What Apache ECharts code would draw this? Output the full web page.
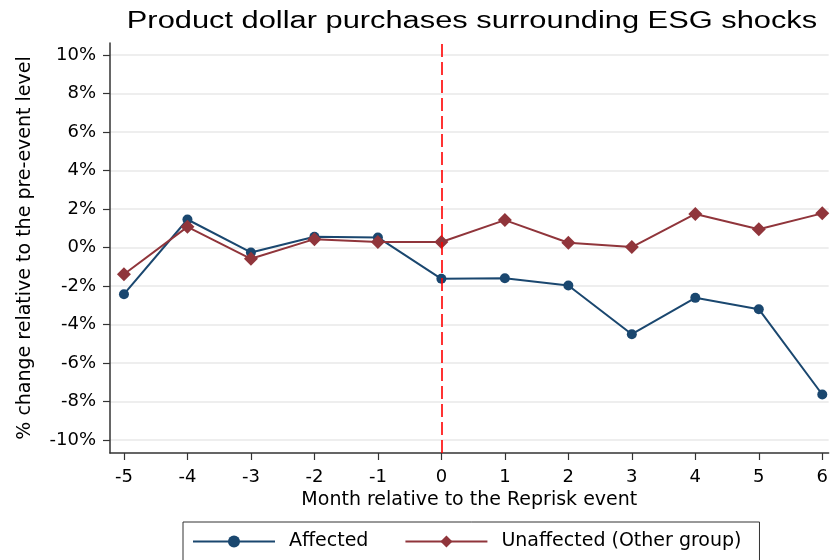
<!DOCTYPE html>
<html><head><meta charset="utf-8">
<script src="https://cdn.jsdelivr.net/npm/echarts@6/dist/echarts.min.js"></script>
<style>html,body{margin:0;padding:0;background:#fff}#c{width:831px;height:560px}</style>
</head><body><div id="c"></div>
<script>
const months = [-5,-4,-3,-2,-1,0,1,2,3,4,5,6];
const affected = [-2.43,1.45,-0.26,0.55,0.52,-1.63,-1.6,-1.98,-4.51,-2.62,-3.21,-7.64];
const unaffected = [-1.39,1.07,-0.59,0.43,0.28,0.28,1.42,0.24,0.02,1.74,0.94,1.77];
const yTicks = [-10,-8,-6,-4,-2,0,2,4,6,8,10];
const eventMonth = 0;
const titleText = 'Product dollar purchases surrounding ESG shocks';
const FONT = '"Liberation Sans", Arial, sans-serif';
const WFONT = '"DejaVu Sans", sans-serif';
const chart = echarts.init(document.getElementById('c'), null, {renderer:'canvas'});
chart.setOption({
  animation:false,
  backgroundColor:'#fff',
  graphic:[{type:'text',x:472,y:22,scaleX:1.34,scaleY:1,
    style:{text:titleText,fontFamily:FONT,fontSize:23,fill:'#000',textAlign:'center',textVerticalAlign:'middle'}}],
  grid:{left:110,right:2,top:43,bottom:107},
  legend:{data:['Affected','Unaffected (Other group)'],left:183,top:522,orient:'horizontal',
    borderColor:'#333',borderWidth:1,padding:[10,18,20,9],itemGap:36,itemWidth:82,itemHeight:15,
    textStyle:{fontFamily:WFONT,fontSize:19,color:'#000',padding:[0,0,0,9]}},
  xAxis:{type:'value',min:-5.22,max:6.1,
    name:'Month relative to the Reprisk event',nameLocation:'middle',nameGap:37,
    nameTextStyle:{fontFamily:WFONT,fontSize:19,color:'#000'},
    axisLine:{onZero:false,lineStyle:{color:'#333',width:1.5}},
    axisTick:{show:true,length:7,customValues:months,lineStyle:{color:'#333',width:1.2}},
    axisLabel:{customValues:months,fontFamily:WFONT,fontSize:18,color:'#000',margin:15},
    splitLine:{show:false}},
  yAxis:{type:'value',min:-10.68,max:10.62,
    name:'% change relative to the pre-event level',nameLocation:'middle',nameGap:75,
    nameTextStyle:{fontFamily:WFONT,fontSize:19,color:'#000'},
    axisLine:{show:true,onZero:false,lineStyle:{color:'#333',width:1.5}},
    axisTick:{show:true,length:7,customValues:yTicks,lineStyle:{color:'#333',width:1.2}},
    axisLabel:{customValues:yTicks,formatter:v=>Math.round(v)+'%',fontFamily:WFONT,fontSize:18,color:'#000',margin:14},
    splitLine:{show:true,lineStyle:{color:'#e8e8e8',width:1.5}}},
  series:[
    {name:'event',type:'line',data:[],z:1,
      markLine:{silent:true,symbol:'none',label:{show:false},
        lineStyle:{color:'#ff0000',type:[13,5],width:1.6},
        data:[{xAxis:eventMonth}]}},
    {name:'Affected',type:'line',z:3,data:months.map((m,i)=>[m,affected[i]]),
      symbol:'circle',symbolSize:10,itemStyle:{color:'#1a476f'},lineStyle:{color:'#1a476f',width:2}},
    {name:'Unaffected (Other group)',type:'line',z:4,data:months.map((m,i)=>[m,unaffected[i]]),
      symbol:'diamond',symbolSize:14,itemStyle:{color:'#90353b'},lineStyle:{color:'#90353b',width:2}}
  ]
});
</script></body></html>
